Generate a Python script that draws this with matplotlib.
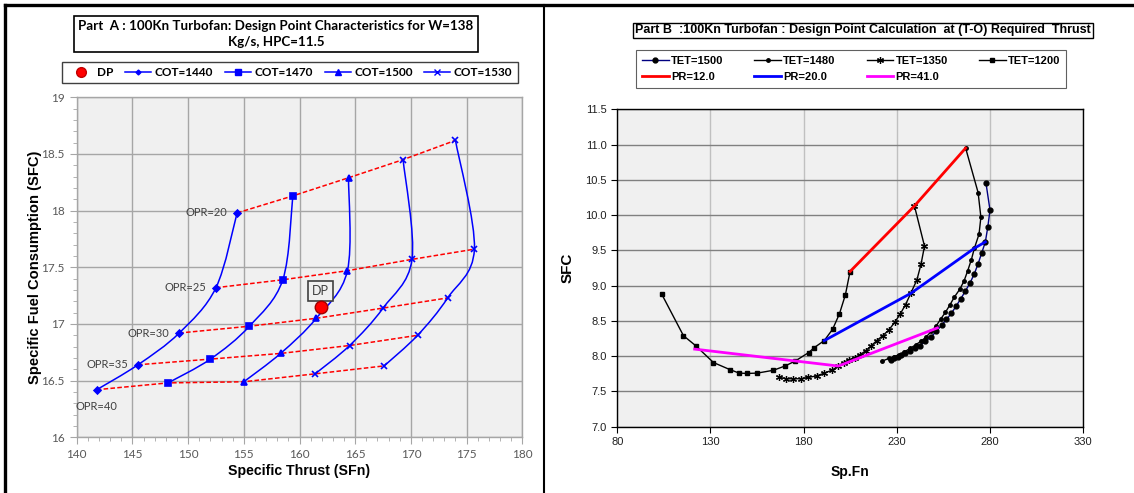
import numpy as np
import matplotlib
matplotlib.use('Agg')
import matplotlib.pyplot as plt
from matplotlib.path import Path
from matplotlib.patches import PathPatch
from matplotlib.lines import Line2D
from matplotlib.ticker import MultipleLocator, FormatStrFormatter

# ---------------- Part A data ----------------
opr_labels = ['OPR=20', 'OPR=25', 'OPR=30', 'OPR=35', 'OPR=40']
cot_labels = ['COT=1440', 'COT=1470', 'COT=1500', 'COT=1530', None]
sfn_1440 = [154.4, 152.5, 149.2, 145.5, 141.8]
sfc_1440 = [17.98, 17.32, 16.92, 16.64, 16.42]
sfn_1470 = [159.4, 158.5, 155.5, 152.0, 148.2]
sfc_1470 = [18.13, 17.39, 16.98, 16.69, 16.48]
sfn_1500 = [164.4, 164.3, 161.5, 158.3, 155.0]
sfc_1500 = [18.29, 17.47, 17.05, 16.74, 16.49]
sfn_1530 = [169.3, 170.1, 167.5, 164.5, 161.4]
sfc_1530 = [18.45, 17.57, 17.14, 16.81, 16.56]
sfn_1560 = [174.0, 175.7, 173.3, 170.6, 167.6]
sfc_1560 = [18.62, 17.66, 17.23, 16.90, 16.63]
dp_sfn = [161.9]
dp_sfc = [17.15]

# ---------------- Part B data ----------------
xticks_B = [80, 130, 180, 230, 280, 330]
tet_1500_x = [278.0, 280.2, 279.0, 277.7, 275.7, 273.8, 271.8, 269.5, 266.9, 264.4, 262.0, 259.5, 256.8,
              254.2, 251.3, 248.4, 245.5, 242.6, 239.7, 237.0, 234.6, 232.4, 230.5, 228.8, 226.8]
tet_1500_y = [10.46, 10.07, 9.83, 9.62, 9.46, 9.31, 9.17, 9.04, 8.92, 8.81, 8.71, 8.61, 8.52,
              8.44, 8.35, 8.27, 8.21, 8.15, 8.11, 8.07, 8.04, 8.01, 7.99, 7.97, 7.95]
tet_1480_x = [267.1, 273.8, 275.3, 274.3, 271.8, 270.2, 268.2, 266.3, 264.0, 261.1, 258.5, 256.2, 253.8,
              251.3, 248.6, 245.8, 243.0, 240.2, 237.2, 234.2, 231.2, 228.5, 226.0, 222.3]
tet_1480_y = [10.95, 10.32, 9.97, 9.73, 9.53, 9.37, 9.21, 9.07, 8.95, 8.84, 8.72, 8.62, 8.53,
              8.43, 8.35, 8.27, 8.21, 8.16, 8.11, 8.06, 8.02, 7.99, 7.97, 7.93]
tet_1350_x = [239.6, 245.0, 243.1, 240.9, 237.6, 234.8, 232.0, 229.0, 225.8, 222.5, 219.3, 216.5, 213.5,
              210.4, 207.5, 204.5, 201.5, 198.7, 195.2, 191.2, 187.1, 182.6, 178.5, 174.5, 170.8, 167.0]
tet_1350_y = [10.13, 9.56, 9.30, 9.08, 8.89, 8.73, 8.60, 8.48, 8.37, 8.29, 8.22, 8.15, 8.08,
              8.02, 7.98, 7.95, 7.91, 7.86, 7.80, 7.76, 7.72, 7.70, 7.68, 7.68, 7.68, 7.70]
tet_1200_x = [103.8, 115.5, 122.0, 131.6, 140.4, 145.4, 149.7, 155.2, 163.8, 170.0, 175.5, 182.7, 185.7,
              191.1, 195.6, 199.3, 202.5, 205.0]
tet_1200_y = [8.88, 8.29, 8.15, 7.91, 7.81, 7.76, 7.755, 7.76, 7.80, 7.86, 7.93, 8.05, 8.12,
              8.22, 8.38, 8.60, 8.87, 9.20]
pr_12_x = [205.0, 239.6, 267.1]
pr_12_y = [9.20, 10.13, 10.95]
pr_20_x = [191.1, 237.6, 271.8, 277.7]
pr_20_y = [8.22, 8.89, 9.53, 9.62]
pr_41_x = [121.5, 198.7, 251.9]
pr_41_y = [8.10, 7.86, 8.40]

W, H = 1134, 493
fig = plt.figure(figsize=(W / 100, H / 100), dpi=100)
fig.patch.set_facecolor('white')

CAL = ['Lato', 'DejaVu Sans']
ARI = ['Liberation Sans', 'DejaVu Sans']


def fx(px):
    return px / W


def fy(py):
    return 1 - py / H


def smooth_path(xs, ys):
    pts = np.column_stack([xs, ys]).astype(float)
    n = len(pts)
    verts = [pts[0]]
    codes = [Path.MOVETO]
    for i in range(n - 1):
        p0 = pts[i - 1] if i > 0 else pts[i]
        p1 = pts[i]
        p2 = pts[i + 1]
        p3 = pts[i + 2] if i + 2 < n else pts[i + 1]
        verts += [p1 + (p2 - p0) / 6.0, p2 - (p3 - p1) / 6.0, p2]
        codes += [Path.CURVE4] * 3
    return Path(verts, codes)


# ================= Part A =================
axA = fig.add_axes([fx(76.7), fy(437.3), fx(522.3 - 76.7), (437.3 - 97.3) / H])
axA.set_facecolor('#F0F0F0')
axA.set_xlim(140, 180)
axA.set_ylim(16, 19)
axA.xaxis.set_major_locator(MultipleLocator(5))
axA.xaxis.set_minor_locator(MultipleLocator(1))
axA.yaxis.set_minor_locator(MultipleLocator(0.1))
axA.set_yticks([16, 16.5, 17, 17.5, 18, 18.5, 19])
axA.set_yticklabels(['16', '16.5', '17', '17.5', '18', '18.5', '19'])
axA.grid(True, which='major', color='#A6A6A6', lw=1.0)
axA.set_axisbelow(True)
for s in axA.spines.values():
    s.set_color('#A6A6A6')
    s.set_linewidth(1.0)
axA.tick_params(which='both', direction='out', color='#A6A6A6', labelcolor='#595959', labelsize=8.5)
axA.tick_params(which='major', length=5)
axA.tick_params(which='minor', length=3)
for lab in axA.get_xticklabels() + axA.get_yticklabels():
    lab.set_family(CAL)
axA.set_xlabel('Specific Thrust (SFn)', family=ARI, fontweight='bold', fontsize=10.2, labelpad=3)
axA.set_ylabel('Specific Fuel Consumption (SFC)', family=ARI, fontweight='bold', fontsize=10.6, labelpad=0)

curves = [(sfn_1440, sfc_1440, 'D', 3.5), (sfn_1470, sfc_1470, 's', 5),
          (sfn_1500, sfc_1500, '^', 5), (sfn_1530, sfc_1530, 'x', 5),
          (sfn_1560, sfc_1560, 'x', 5)]

# red dashed constant-OPR lines
for i in range(len(opr_labels)):
    xs = [c[0][i] for c in curves]
    ys = [c[1][i] for c in curves]
    axA.plot(xs, ys, color='#FF0000', ls=(0, (3, 1.5)), lw=1.1, zorder=2)

handlesA = [Line2D([], [], ls='none', marker='o', color='#FF0000', mec='#C00000', ms=7)]
labelsA = ['DP']
for (xs, ys, mk, ms), lab in zip(curves, cot_labels):
    axA.add_patch(PathPatch(smooth_path(xs, ys), fc='none', ec='#0000FF', lw=1.1, zorder=3))
    axA.plot(xs, ys, ls='none', marker=mk, ms=ms, color='#0000FF', mew=1.2, zorder=4)
    if lab:
        handlesA.append(Line2D([], [], color='#0000FF', lw=1.1, marker=mk, ms=ms - 1))
        labelsA.append(lab)

axA.plot(dp_sfn, dp_sfc, ls='none', marker='o', ms=9, color='#FF0000', mec='#A00000', mew=1, zorder=5)
axA.annotate('DP', (dp_sfn[0], dp_sfc[0]), xytext=(0, 11.5), textcoords='offset points',
             ha='center', va='center', family=CAL, fontsize=9, color='#404040',
             bbox=dict(boxstyle='square,pad=0.3', fc='#F0F0F0', ec='#404040', lw=1.2))

for i, lab in enumerate(opr_labels[:4]):
    axA.annotate(lab, (sfn_1440[i], sfc_1440[i]), xytext=(-7, 0), textcoords='offset points',
                 ha='right', va='center', family=CAL, fontsize=8, color='#404040')
axA.annotate(opr_labels[4], (sfn_1440[4], sfc_1440[4]), xytext=(0, -12), textcoords='offset points',
             ha='center', va='center', family=CAL, fontsize=8, color='#404040')

fig.text(fx(276), fy(34), 'Part  A : 100Kn Turbofan: Design Point Characteristics for W=138\nKg/s, HPC=11.5',
         ha='center', va='center', family=CAL, fontweight='bold', fontsize=9.6, linespacing=1.35,
         bbox=dict(boxstyle='square,pad=0.3', fc='white', ec='black', lw=1.2))

legA = fig.legend(handlesA, labelsA, loc='center', bbox_to_anchor=(fx(290), fy(72.5)), ncol=5,
                  frameon=True, fancybox=False, edgecolor='#404040', framealpha=1,
                  prop=dict(family=CAL, weight='bold', size=8.5), handlelength=2.2,
                  handletextpad=0.3, columnspacing=1.0, borderpad=0.45)
legA.get_frame().set_linewidth(1.0)

# ================= Part B =================
axB = fig.add_axes([fx(617.4), fy(426.7), fx(1082.7 - 617.4), (426.7 - 109.3) / H])
axB.set_facecolor('#F0F0F0')
axB.set_xlim(xticks_B[0], xticks_B[-1])
axB.set_ylim(7.0, 11.5)
axB.set_xticks(xticks_B)
axB.yaxis.set_major_locator(MultipleLocator(0.5))
axB.yaxis.set_major_formatter(FormatStrFormatter('%.1f'))
axB.xaxis.grid(True, color='#C0C0C0', lw=1.0)
axB.yaxis.grid(True, color='#808080', lw=1.0)
axB.set_axisbelow(True)
for s in axB.spines.values():
    s.set_color('black')
    s.set_linewidth(1.0)
axB.tick_params(direction='out', length=4, color='black', labelsize=8, labelcolor='#202020')
for lab in axB.get_xticklabels() + axB.get_yticklabels():
    lab.set_family(ARI)
axB.set_xlabel('Sp.Fn', family=ARI, fontweight='bold', fontsize=10, labelpad=13)
axB.set_ylabel('SFC', family=ARI, fontweight='bold', fontsize=11, labelpad=8)

h1500, = axB.plot(tet_1500_x, tet_1500_y, color='#000080', lw=1.0, marker='o', ms=3.5,
                  mfc='black', mec='black', zorder=3)
h1480, = axB.plot(tet_1480_x, tet_1480_y, color='black', lw=1.0, marker='o', ms=2.5, zorder=3)
h1350, = axB.plot(tet_1350_x, tet_1350_y, color='black', lw=1.0, marker=(6, 2, 0), ms=5, mew=0.9, zorder=3)
h1200, = axB.plot(tet_1200_x, tet_1200_y, color='black', lw=1.0, marker='s', ms=3.5, zorder=3)
hp12, = axB.plot(pr_12_x, pr_12_y, color='#FF0000', lw=2.0, zorder=4)
hp20, = axB.plot(pr_20_x, pr_20_y, color='#0000FF', lw=2.0, zorder=4)
hp41, = axB.plot(pr_41_x, pr_41_y, color='#FF00FF', lw=2.0, zorder=4)

handlesB = [h1500, hp12, h1480, hp20, h1350, hp41, h1200]
labelsB = ['TET=1500', 'PR=12.0', 'TET=1480', 'PR=20.0', 'TET=1350', 'PR=41.0', 'TET=1200']
legB = fig.legend(handlesB, labelsB, loc='center', bbox_to_anchor=(fx(851), fy(69)), ncol=4,
                  frameon=True, fancybox=False, edgecolor='#606060', framealpha=1,
                  prop=dict(family=ARI, weight='bold', size=8), handlelength=2.4,
                  handletextpad=0.2, columnspacing=2.8, borderpad=0.55, labelspacing=0.55)
legB.get_frame().set_linewidth(0.8)

fig.text(fx(862.8), fy(30.5), 'Part B  :100Kn Turbofan : Design Point Calculation  at (T-O) Required  Thrust',
         ha='center', va='center', family=ARI, fontweight='bold', fontsize=9,
         bbox=dict(boxstyle='square,pad=0.15', fc='white', ec='black', lw=1.0))

# panel borders
fig.add_artist(Line2D([fx(5), 1], [fy(5), fy(5)], transform=fig.transFigure, color='black', lw=2.4))
fig.add_artist(Line2D([fx(5), fx(5)], [0, fy(5)], transform=fig.transFigure, color='black', lw=2.4))
fig.add_artist(Line2D([fx(544), fx(544)], [0, fy(5)], transform=fig.transFigure, color='black', lw=1.5))

fig.savefig('out.png', dpi=100)
